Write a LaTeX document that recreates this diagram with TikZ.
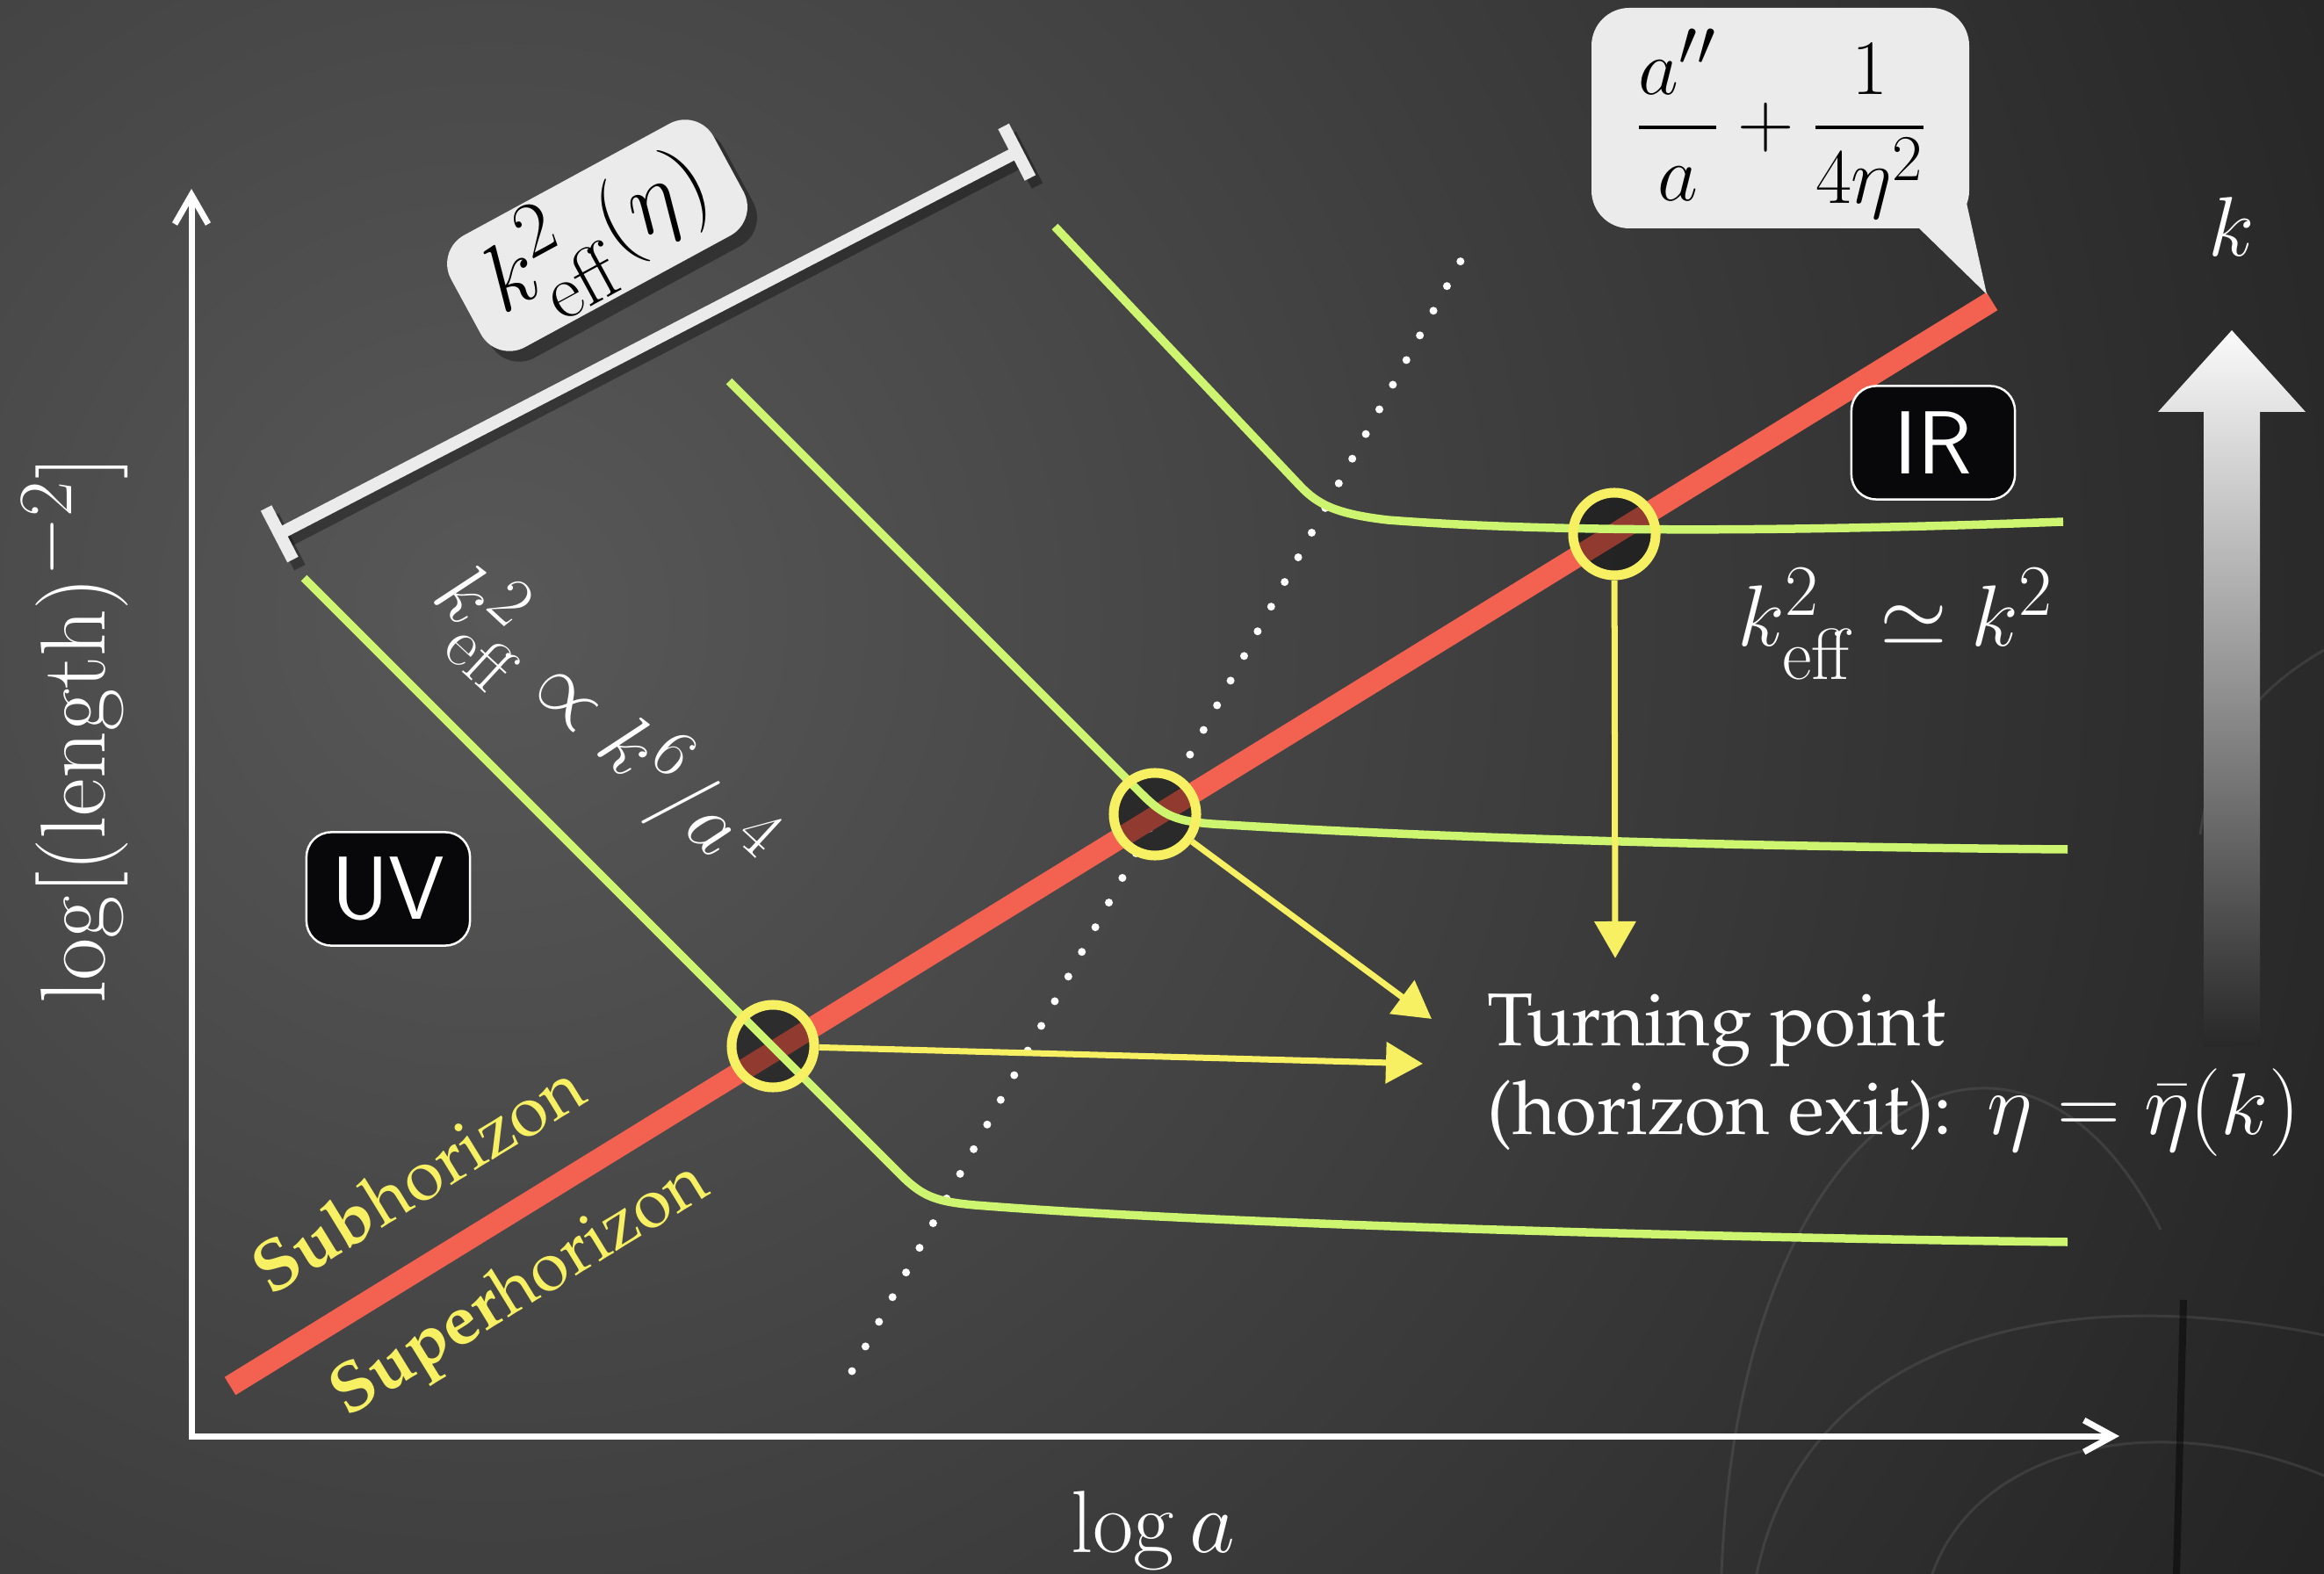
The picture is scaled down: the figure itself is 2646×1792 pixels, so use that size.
\documentclass[tikz,border=0pt]{standalone}
\usepackage{amsmath}
\usepackage[T1,TU]{fontenc}
\usetikzlibrary{arrows.meta}
\definecolor{bgdark}{RGB}{30,30,30}
\definecolor{bglight}{RGB}{88,88,88}
\definecolor{redline}{RGB}{243,97,80}
\definecolor{greenc}{RGB}{205,245,112}
\definecolor{chalky}{RGB}{246,240,98}
\definecolor{bubblec}{RGB}{235,235,235}
\definecolor{boxblack}{RGB}{8,8,10}
\definecolor{arrowlow}{RGB}{40,40,40}
\definecolor{arrowtop}{RGB}{250,250,250}
\newcommand{\palfont}{\fontencoding{T1}\fontfamily{ppl}\selectfont}
\newcommand{\mathbig}{\fontsize{24.88}{30}\selectfont}
\tikzset{
  axisline/.style={white, line width=0.07cm},
  greencurve/.style={greenc, line width=0.095cm},
  chalkring/.style={circle, draw=chalky, line width=0.11cm, minimum size=0.94cm, inner sep=0pt},
  chalkarrow/.style={chalky, line width=0.07cm, -{Triangle[length=0.42cm,width=0.46cm]}},
  regionbox/.style={draw=white, line width=0.025cm, fill=boxblack, rounded corners=0.28cm,
    minimum width=1.86cm, minimum height=1.29cm, text=white, inner sep=0pt,
    font=\sffamily\fontsize{29}{32}\selectfont},
  whitelabel/.style={text=white, inner sep=0pt},
  mathlabel/.style={text=white, inner sep=0pt, font=\mathbig},
  bubblebox/.style={fill=bubblec, rounded corners=0.37cm, minimum width=3.4cm, minimum height=1.45cm, inner sep=0pt},
}
\begin{document}
\begin{tikzpicture}[x=0.01cm,y=-0.01cm]
\useasboundingbox (0,0) rectangle (2646,1792);
% background
\begin{scope}
\clip (0,0) rectangle (2646,1792);
\fill[bgdark] (0,0) rectangle (2646,1792);
\shade[inner color=bglight, outer color=bgdark] (560,700) circle (2600);
\begin{scope}[gray!70, opacity=0.15, line width=0.03cm]
\draw (1960,1792) .. controls (1980,1250) and (2300,1080) .. (2460,1400);
\draw (2000,1792) .. controls (2050,1550) and (2300,1450) .. (2646,1520);
\draw (2646,740) .. controls (2560,790) and (2520,850) .. (2505,950);
\draw (2200,1792) .. controls (2250,1650) and (2450,1600) .. (2646,1680);
\end{scope}
\draw[black, opacity=0.45, line width=0.08cm] (2486,1480) -- (2478,1792);
\end{scope}

% dotted line
\draw[white, line width=0.09cm, line cap=round, dash pattern=on 0pt off 0.32cm] (970,1561) -- (1667,290);

% axes
\coordinate (ytop) at (218,215);
\coordinate (orig) at (218,1635);
\coordinate (xend) at (2413,1635);
\draw[axisline, line join=miter, arrows={Straight Barb[length=0.33cm,width=0.38cm]-Straight Barb[length=0.33cm,width=0.36cm]}] (ytop) -- (orig) -- (xend);
\node[mathlabel, rotate=90, scale=1.2] (ylab) at (85,831) {$\log[(\mathrm{length})^{-2}]$};
\node[mathlabel, scale=1.15] (xlab) at (1313,1742) {$\log a$};

% red horizon line
\coordinate (redA) at (262,1578);
\coordinate (redB) at (2268,343);
\draw[redline, line width=0.24cm] (redA) -- (redB);

% darkening inside circles
\fill[black, opacity=0.4] (880,1191) circle (47) (1315,927) circle (47) (1838,608) circle (47);

% green curves
\draw[greencurve] (346,658) -- (1025,1337) .. controls (1050,1362) and (1065,1368) .. (1110,1372) .. controls (1400,1395) and (2000,1410) .. (2354,1414);
\draw[greencurve] (830,434) -- (1300,904) .. controls (1325,929) and (1340,935) .. (1380,938) .. controls (1700,958) and (2100,965) .. (2354,967);
\draw[greencurve] (1201,258) -- (1480,553) .. controls (1500,574) and (1520,585) .. (1580,592) .. controls (1750,605) and (2000,607) .. (2349,594);

% chalk circles and arrows
\node[chalkring] (c1) at (880,1191) {};
\node[chalkring] (c2) at (1315,927) {};
\node[chalkring] (c3) at (1838,608) {};
\coordinate (t1) at (1620,1211);
\coordinate (t2) at (1630,1160);
\coordinate (t3) at (1839,1091);
\draw[chalkarrow] (c1) -- (t1);
\draw[chalkarrow] (c2) -- (t2);
\draw[chalkarrow] (c3) -- (t3);

% turning point text
\node[whitelabel, anchor=base west, font=\palfont\fontsize{24.2}{29}\selectfont] (tp1) at (1693,1190) {Turning point};
\node[whitelabel, anchor=base west, font=\palfont\fontsize{24.2}{29}\selectfont] (tp2) at (1693,1291) {(horizon exit):};
\node[mathlabel, anchor=base west, scale=1.14] (tp3) at (2262,1291) {$\eta=\bar{\eta}(k)$};

% sub/super horizon
\node[text=chalky, inner sep=0pt, rotate=31.6, font=\palfont\fontsize{23}{27}\selectfont] (sub) at (475,1340) {\textbf{Sub}horizon};
\node[text=chalky, inner sep=0pt, rotate=31.6, font=\palfont\fontsize{22.5}{27}\selectfont] (super) at (593,1470) {\textbf{Super}horizon};

% k_eff labels
\node[mathlabel, rotate=-42.7, scale=1.08] (uvlaw) at (682,826) {$k^2_{\mathrm{eff}}\propto k^6/a^4$};
\node[mathlabel, anchor=base west, scale=1.13] (irlaw) at (1978,736) {$k^2_{\mathrm{eff}}\simeq k^2$};

% UV / IR boxes
\node[regionbox] (uv) at (442,1012) {UV};
\node[regionbox] (ir) at (2201,504) {IR};

% bar with k_eff(eta) bubble
\coordinate (barL) at (312,611);
\coordinate (barR) at (1164,170);
\coordinate (barLs) at (320,620);
\coordinate (barRs) at (1172,179);
\draw[black, opacity=0.35, line width=0.14cm, arrows={Bar[width=0.66cm]-Bar[width=0.66cm]}] (barLs) -- (barRs);
\draw[bubblec, line width=0.14cm, arrows={Bar[width=0.66cm]-Bar[width=0.66cm]}] (barL) -- (barR);
\node[bubblebox, fill=black, opacity=0.35, rotate=28.5] (keffshadow) at (691,280) {};
\node[bubblebox, rotate=28.5] (keff) at (680,268) {};
\node[inner sep=0pt, font=\mathbig, rotate=28.5, scale=1.22] (kefftext) at (keff.center) {$k^2_{\mathrm{eff}}(\eta)$};

% formula speech bubble
\fill[bubblec, rounded corners=0.43cm] (1812,9) rectangle (2242,260);
\fill[bubblec] (2183,258) -- (2262,335) -- (2237,222) -- (2205,225) -- cycle;
\node[inner sep=0pt, font=\mathbig, scale=1.02] (ratio) at (2028,141) {$\dfrac{a''}{a}+\dfrac{1}{4\eta^2}$};

% k arrow
\shade[top color=arrowtop, bottom color=arrowlow] (2509,1191) -- (2509,469) -- (2457,469) -- (2541,376) -- (2625,469) -- (2573,469) -- (2573,1191) -- cycle;
\node[mathlabel, scale=1.1] (klab) at (2541,258) {$k$};
\end{tikzpicture}
\end{document}
